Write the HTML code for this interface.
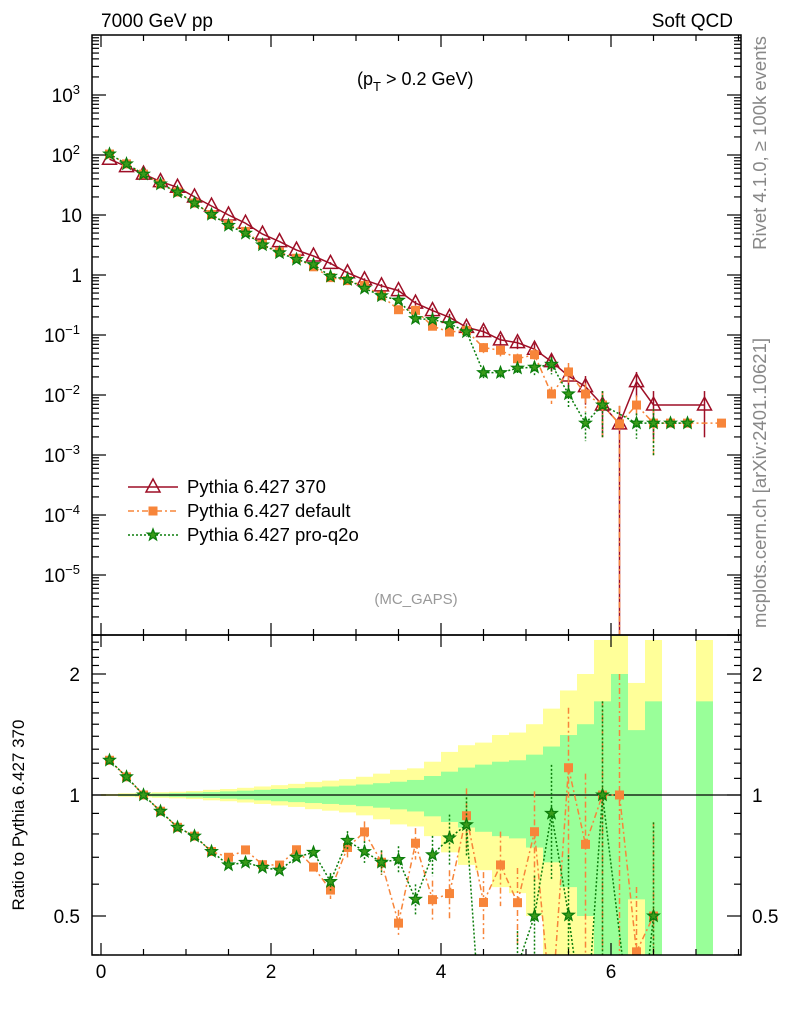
<!DOCTYPE html>
<html><head><meta charset="utf-8"><style>
html,body{margin:0;padding:0;background:#fff;overflow:hidden;width:786px;height:1024px;}
svg{display:block;font-family:"Liberation Sans",sans-serif;}
</style></head><body>
<svg id="c" width="786" height="1024" viewBox="0 0 786 1024" xmlns="http://www.w3.org/2000/svg">
<defs>
<clipPath id="clipTop"><rect x="92" y="35" width="649" height="600"/></clipPath>
<clipPath id="clipBot"><rect x="92" y="635" width="649" height="320"/></clipPath>
</defs>
<g id="bands" clip-path="url(#clipBot)"></g>
<g id="topMarks" clip-path="url(#clipTop)"></g>
<g id="botMarks" clip-path="url(#clipBot)"></g>
<g id="axes"></g>
<text x="101" y="27" font-size="19">7000 GeV pp</text>
<text x="733" y="27" font-size="19" text-anchor="end">Soft QCD</text>
<text x="357" y="85" font-size="18">(p<tspan font-size="13" dy="6">T</tspan><tspan dy="-6"> &gt; 0.2 GeV)</tspan></text>
<text x="416" y="604" font-size="15" fill="#999" text-anchor="middle">(MC_GAPS)</text>
<text transform="translate(766,143) rotate(-90)" font-size="18.5" fill="#888" text-anchor="middle">Rivet 4.1.0, ≥ 100k events</text>
<text transform="translate(766,483) rotate(-90)" font-size="18.5" fill="#888" text-anchor="middle">mcplots.cern.ch [arXiv:2401.10621]</text>
<text transform="translate(24,815) rotate(-90)" font-size="17" text-anchor="middle">Ratio to Pythia 6.427 370</text>
<g id="legend"></g>
</svg>
<script>
const xs = [0.1,0.3,0.5,0.7,0.9,1.1,1.3,1.5,1.7,1.9,2.1,2.3,2.5,2.7,2.9,3.1,3.3,3.5,3.7,3.9,4.1,4.3,4.5,4.7,4.9,5.1,5.3,5.5,5.7,5.9,6.1,6.3,6.5,6.7,6.9,7.1,7.3];
const red370 = [85,64,48,36,29,20,14.1,10,7.3,4.8,3.6,2.6,2.07,1.56,1.09,0.83,0.66,0.55,0.34,0.255,0.197,0.134,0.114,0.083,0.0745,0.058,0.036,0.0207,0.0138,0.0068,0.0033,0.0167,0.0068,null,null,0.0068,null];
const orangeDefault = [103.7,71,48,32.8,24.1,15.8,10.2,7.0,5.33,3.22,2.41,1.90,1.37,0.905,0.807,0.672,0.449,0.264,0.258,0.140,0.112,0.119,0.0616,0.0556,0.0402,0.047,0.0104,0.0242,0.0104,0.0068,0.0033,0.0068,0.0034,0.0034,0.0034,null,0.0034];
const greenProq2o = [103.7,71,48,32.8,24.1,15.8,10.2,6.7,4.96,3.17,2.34,1.82,1.49,0.95,0.84,0.60,0.449,0.38,0.187,0.181,0.154,0.113,0.0236,0.0236,0.028,0.029,0.0324,0.0104,0.0034,0.0068,null,0.0034,0.0034,0.0034,0.0034,null,null];
const statErr = [0.003,0.005,0.007,0.009,0.011,0.014,0.017,0.021,0.025,0.03,0.035,0.04,0.045,0.05,0.055,0.062,0.07,0.079,0.09,0.115,0.143,0.17,0.19,0.21,0.22,0.26,0.32,0.41,0.50,0.71,1.0,0.45,0.71,null,null,0.71,null];
const totErr = [0.006,0.01,0.013,0.016,0.019,0.023,0.03,0.035,0.042,0.05,0.058,0.066,0.078,0.086,0.095,0.11,0.13,0.155,0.165,0.21,0.28,0.33,0.35,0.41,0.43,0.50,0.64,0.82,1.0,1.43,1.6,0.9,1.43,null,null,1.43,null];
const xTicks = [0,2,4,6];
const yTopTicks = [3,2,1,0,-1,-2,-3,-4,-5];
const yBotTicks = [0.5,1,2];

const NS="http://www.w3.org/2000/svg";
const X = v => 101 + 85*v;
const YT = v => 275 - 60*Math.log10(v);
const YB = r => 795 - 121*Math.log2(r);
const topLim=[35,635], botLim=[635,955];
function mk(tag, parent){ const e=document.createElementNS(NS,tag); parent.appendChild(e); return e; }
const bands=document.getElementById('bands'), topG=document.getElementById('topMarks'), botG=document.getElementById('botMarks'), axes=document.getElementById('axes'), legend=document.getElementById('legend');
const RED='#9e0f26', ORA='#f7853a', GRN='#0b7d0b';
const cl=(y,L)=>Math.max(L[0],Math.min(L[1],y));

xs.forEach((x,i)=>{
  if(totErr[i]==null) return;
  [[totErr[i],'#ffff99'],[statErr[i],'#99ff99']].forEach(([e,col])=>{
    const r=mk('rect',bands);
    
    
    const y1=cl(YB(1+e),botLim), y2=cl(YB(Math.max(1-e,0.3)),botLim);
    r.setAttribute('x',X(x-0.1)); r.setAttribute('width',17);
    r.setAttribute('y',y1); r.setAttribute('height',y2-y1); r.setAttribute('fill',col);
  });
});
const one=mk('line',bands);


one.setAttribute('x1',92);one.setAttribute('x2',741);one.setAttribute('y1',YB(1));one.setAttribute('y2',YB(1));one.setAttribute('stroke','#000');one.setAttribute('stroke-width',1.2);

function star(cx,cy,R){ let p=[]; for(let k=0;k<10;k++){const a=-Math.PI/2+k*Math.PI/5; const r=k%2?R*0.42:R; p.push((cx+r*Math.cos(a)).toFixed(1)+','+(cy+r*Math.sin(a)).toFixed(1));} return p.join(' '); }
function marker(g,kind,cx,cy,name){
  let e;
  if(kind==='tri'){ e=mk('polygon',g); e.setAttribute('points',`${cx},${cy-8} ${cx-7},${cy+5} ${cx+7},${cy+5}`); e.setAttribute('fill','none'); e.setAttribute('stroke',RED); e.setAttribute('stroke-width',1.5); }
  else if(kind==='sq'){ e=mk('rect',g); e.setAttribute('x',cx-4.5); e.setAttribute('y',cy-4.5); e.setAttribute('width',9); e.setAttribute('height',9); e.setAttribute('fill',ORA); }
  else { e=mk('polygon',g); e.setAttribute('points',star(cx,cy,6)); e.setAttribute('fill','#3a9a1a'); e.setAttribute('stroke',GRN); e.setAttribute('stroke-width',1.3); }
  
  
}
function clipSeg(x1,y1,x2,y2,L){
  // clip segment in y to [L0,L1]
  let t0=0,t1=1; const dy=y2-y1;
  if(dy!==0){
    const ta=(L[0]-y1)/dy, tb=(L[1]-y1)/dy;
    t0=Math.max(t0,Math.min(ta,tb)); t1=Math.min(t1,Math.max(ta,tb));
  } else if(y1<L[0]||y1>L[1]) return null;
  if(t0>t1) return null;
  return [x1+(x2-x1)*t0,y1+dy*t0,x1+(x2-x1)*t1,y1+dy*t1];
}
function series(g,vals,yf,L,col,dash,kind,name){
  const pts=[];
  vals.forEach((v,i)=>{ if(v==null) return; pts.push([X(xs[i]), yf(v), v, i]); });
  pts.forEach(([px,py,v,i])=>{
    const e=statErr[i]; if(e==null||e<0.05) return;
    const up=cl(yf(v*(1+e)),L), dn=cl(yf(Math.max(v*(1-e),1e-9)),L);
    if(up===dn) return;
    const l=mk('line',g);
    
    
    l.setAttribute('x1',px);l.setAttribute('x2',px);l.setAttribute('y1',up);l.setAttribute('y2',dn);l.setAttribute('stroke',col);l.setAttribute('stroke-width',1.5);if(dash)l.setAttribute('stroke-dasharray',dash);
  });
  let d='';
  for(let k=0;k<pts.length-1;k++){
    const s=clipSeg(pts[k][0],pts[k][1],pts[k+1][0],pts[k+1][1],L);
    if(s) d+=`M${s[0].toFixed(1)},${s[1].toFixed(1)}L${s[2].toFixed(1)},${s[3].toFixed(1)}`;
  }
  const pl=mk('path',g);
  
  
  pl.setAttribute('d',d);
  pl.setAttribute('fill','none');pl.setAttribute('stroke',col);pl.setAttribute('stroke-width',1.5);if(dash)pl.setAttribute('stroke-dasharray',dash);
  pts.forEach(([px,py])=>{ if(py>=L[0] && py<=L[1]) marker(g,kind,px,py,name+'-point'); });
}
series(topG,red370,YT,topLim,RED,null,'tri','pythia-370');
series(topG,orangeDefault,YT,topLim,ORA,'6,3,2,3','sq','pythia-default');
series(topG,greenProq2o,YT,topLim,GRN,'2,2','star','pythia-pro-q2o');
const rOra=orangeDefault.map((v,i)=> (v!=null&&red370[i]!=null)? v/red370[i] : null);
const rGrn=greenProq2o.map((v,i)=> (v!=null&&red370[i]!=null)? v/red370[i] : null);
series(botG,rOra,YB,botLim,ORA,'6,3,2,3','sq','ratio-default');
series(botG,rGrn,YB,botLim,GRN,'2,2','star','ratio-pro-q2o');

function line(x1,y1,x2,y2,name,w){const l=mk('line',axes);
  
  
  l.setAttribute('x1',x1);l.setAttribute('y1',y1);l.setAttribute('x2',x2);l.setAttribute('y2',y2);l.setAttribute('stroke','#000');l.setAttribute('stroke-width',w||1.2);}
function txt(x,y,s,anchor,size,name){const t=mk('text',axes);
  
  
  t.setAttribute('x',x);t.setAttribute('y',y);t.setAttribute('text-anchor',anchor);t.setAttribute('font-size',size);t.innerHTML=s;return t;}
[[35,635],[635,955]].forEach(([a,b])=>{
  const r=mk('rect',axes);
  
  
  r.setAttribute('x',92);r.setAttribute('y',a);r.setAttribute('width',649);r.setAttribute('height',b-a);r.setAttribute('fill','none');r.setAttribute('stroke','#000');r.setAttribute('stroke-width',1.5);
});
for(let v=0; v<=7.5; v+=0.5){
  const major = xTicks.includes(v);
  const Lt = major?12:6;
  [[35,1],[635,-1],[635,1],[955,-1]].forEach(([y,s])=>line(X(v),y,X(v),y+s*Lt,'x-tick'));
}
xTicks.forEach(v=>txt(X(v),978,String(v),'middle',19,'x-tick-label'));
for(let d=-6; d<4; d++){
  for(let m=1;m<10;m++){
    const y=YT(m*Math.pow(10,d)); if(y<35||y>635) continue;
    const Lt = m===1?14:7;
    line(92,y,92+Lt,y,'y-tick-top'); line(741,y,741-Lt,y,'y-tick-top');
  }
}
yTopTicks.forEach(e=>{
  const y=YT(Math.pow(10,e));
  let s = e===1?'10': e===0?'1' : `10<tspan font-size="13" dy="-8">${e<0?'−'+(-e):e}</tspan>`;
  txt(e===1||e===0?82:80, y+7, s, 'end', 19, 'y-tick-label-top');
});
for(let k=4;k<=25;k++){
  const r=k/10; const y=YB(r); if(y<635||y>955) continue;
  const Lt = yBotTicks.includes(r)?14:7;
  line(92,y,92+Lt,y,'y-tick-ratio'); line(741,y,741-Lt,y,'y-tick-ratio');
}
yBotTicks.forEach(r=>{ const y=YB(r)+7; txt(80,y,String(r),'end',19,'y-tick-label-ratio'); txt(752,y,String(r),'start',19,'y-tick-label-ratio-right'); });

const leg=[['Pythia 6.427 370',RED,null,'tri',487],['Pythia 6.427 default',ORA,'6,3,2,3','sq',511],['Pythia 6.427 pro-q2o',GRN,'2,2','star',535]];
leg.forEach(([lab,col,dash,kind,y])=>{
  const l=mk('line',legend);
  
  
  l.setAttribute('x1',128);l.setAttribute('x2',178);l.setAttribute('y1',y);l.setAttribute('y2',y);l.setAttribute('stroke',col);l.setAttribute('stroke-width',1.5);if(dash)l.setAttribute('stroke-dasharray',dash);
  marker(legend,kind,153,y,'legend-marker');
  const t=mk('text',legend);
  
  
  t.setAttribute('x',187);t.setAttribute('y',y+6);t.setAttribute('font-size',18.5);t.textContent=lab;
});
</script>
</body></html>
